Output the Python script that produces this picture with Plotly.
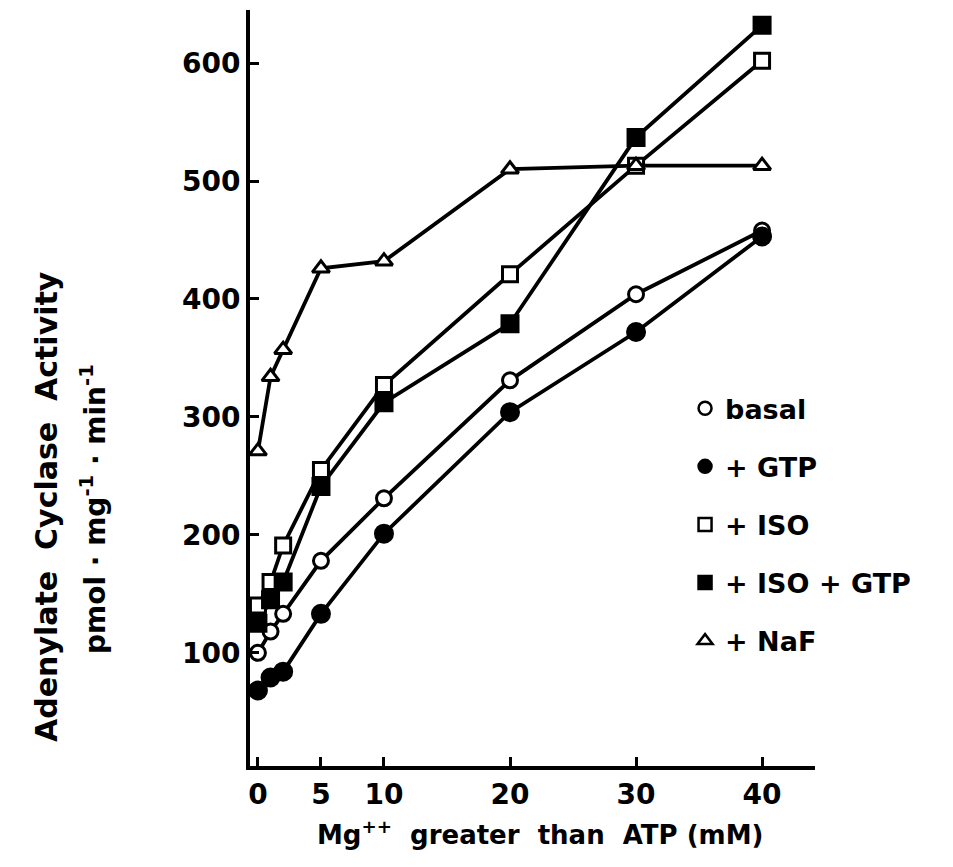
import plotly.graph_objects as go

# ---- data ----
mg_excess = [0, 1, 2, 5, 10, 20, 30, 40]
basal = [100, 118, 133, 178, 231, 331, 404, 458]
gtp = [68, 79, 84, 133, 201, 304, 372, 453]
iso = [140, 160, 191, 255, 327, 421, 513, 602]
iso_gtp = [125, 145, 160, 241, 312, 379, 537, 632]
naf = [271, 334, 357, 426, 432, 510, 513, 513]

series_names = ["basal", "+ GTP", "+ ISO", "+ ISO + GTP", "+ NaF"]
x_ticks = [0, 5, 10, 20, 30, 40]
y_ticks = [100, 200, 300, 400, 500, 600]

series_values = [basal, gtp, iso, iso_gtp, naf]
symbols = ["circle", "circle", "square", "square", "triangle-up"]
fills = ["white", "black", "white", "black", "white"]
sizes = [15, 17, 15, 16, 15]

FONT = "DejaVu Sans"
fig = go.Figure()

# lines first
for vals in series_values:
    fig.add_trace(go.Scatter(x=mg_excess, y=vals, mode="lines",
                             line=dict(color="black", width=3.8),
                             showlegend=False, hoverinfo="skip"))
# markers on top
for name, vals, sym, fc, sz in zip(series_names, series_values, symbols, fills, sizes):
    fig.add_trace(go.Scatter(x=mg_excess, y=vals, mode="markers", name=name,
                             marker=dict(symbol=sym, size=sz, color=fc,
                                         line=dict(color="black", width=3)),
                             showlegend=False))
# legend entries (marker only)
for i, (name, sym, fc) in enumerate(zip(series_names, symbols, fills)):
    fig.add_trace(go.Scatter(x=[None], y=[None], mode="markers", name=name,
                             legendgroup=f"g{i}",
                             marker=dict(symbol=sym, size=13, color=fc,
                                         line=dict(color="black", width=2.5))))

axis_common = dict(showline=True, linewidth=4, linecolor="black", mirror=False,
                   ticks="inside", ticklen=9, tickwidth=3, tickcolor="black",
                   showgrid=False, zeroline=False,
                   tickfont=dict(family=FONT, size=28, color="black", weight="bold"))

fig.update_layout(
    width=953, height=867,
    margin=dict(l=250, r=138, t=10, b=101),
    paper_bgcolor="white", plot_bgcolor="white",
    xaxis=dict(range=[-0.63, 44.2], tickvals=x_ticks, **axis_common),
    yaxis=dict(range=[4, 645], tickvals=y_ticks, **axis_common),
    legend=dict(x=0.77, y=0.505, xanchor="left", yanchor="top",
                font=dict(family=FONT, size=27, color="black", weight="bold"),
                tracegroupgap=20, bgcolor="rgba(0,0,0,0)", itemwidth=30),
    annotations=[
        dict(text="Adenylate  Cyclase  Activity", textangle=-90,
             xref="paper", yref="paper", x=(46 - 250) / 565, y=(766 - 507) / 756,
             showarrow=False, xanchor="center", yanchor="middle",
             font=dict(family=FONT, size=30, color="black", weight="bold")),
        dict(text="pmol · mg<sup>-1</sup> · min<sup>-1</sup>", textangle=-90,
             xref="paper", yref="paper", x=(94 - 250) / 565, y=(766 - 509) / 756,
             showarrow=False, xanchor="center", yanchor="middle",
             font=dict(family=FONT, size=28, color="black", weight="bold")),
        dict(text="Mg<sup>++</sup>  greater  than  ATP (mM)",
             xref="paper", yref="paper", x=(540 - 250) / 565, y=-(833 - 766) / 756,
             showarrow=False, xanchor="center", yanchor="middle",
             font=dict(family=FONT, size=26, color="black", weight="bold")),
    ],
)

fig.write_html("out.html")
